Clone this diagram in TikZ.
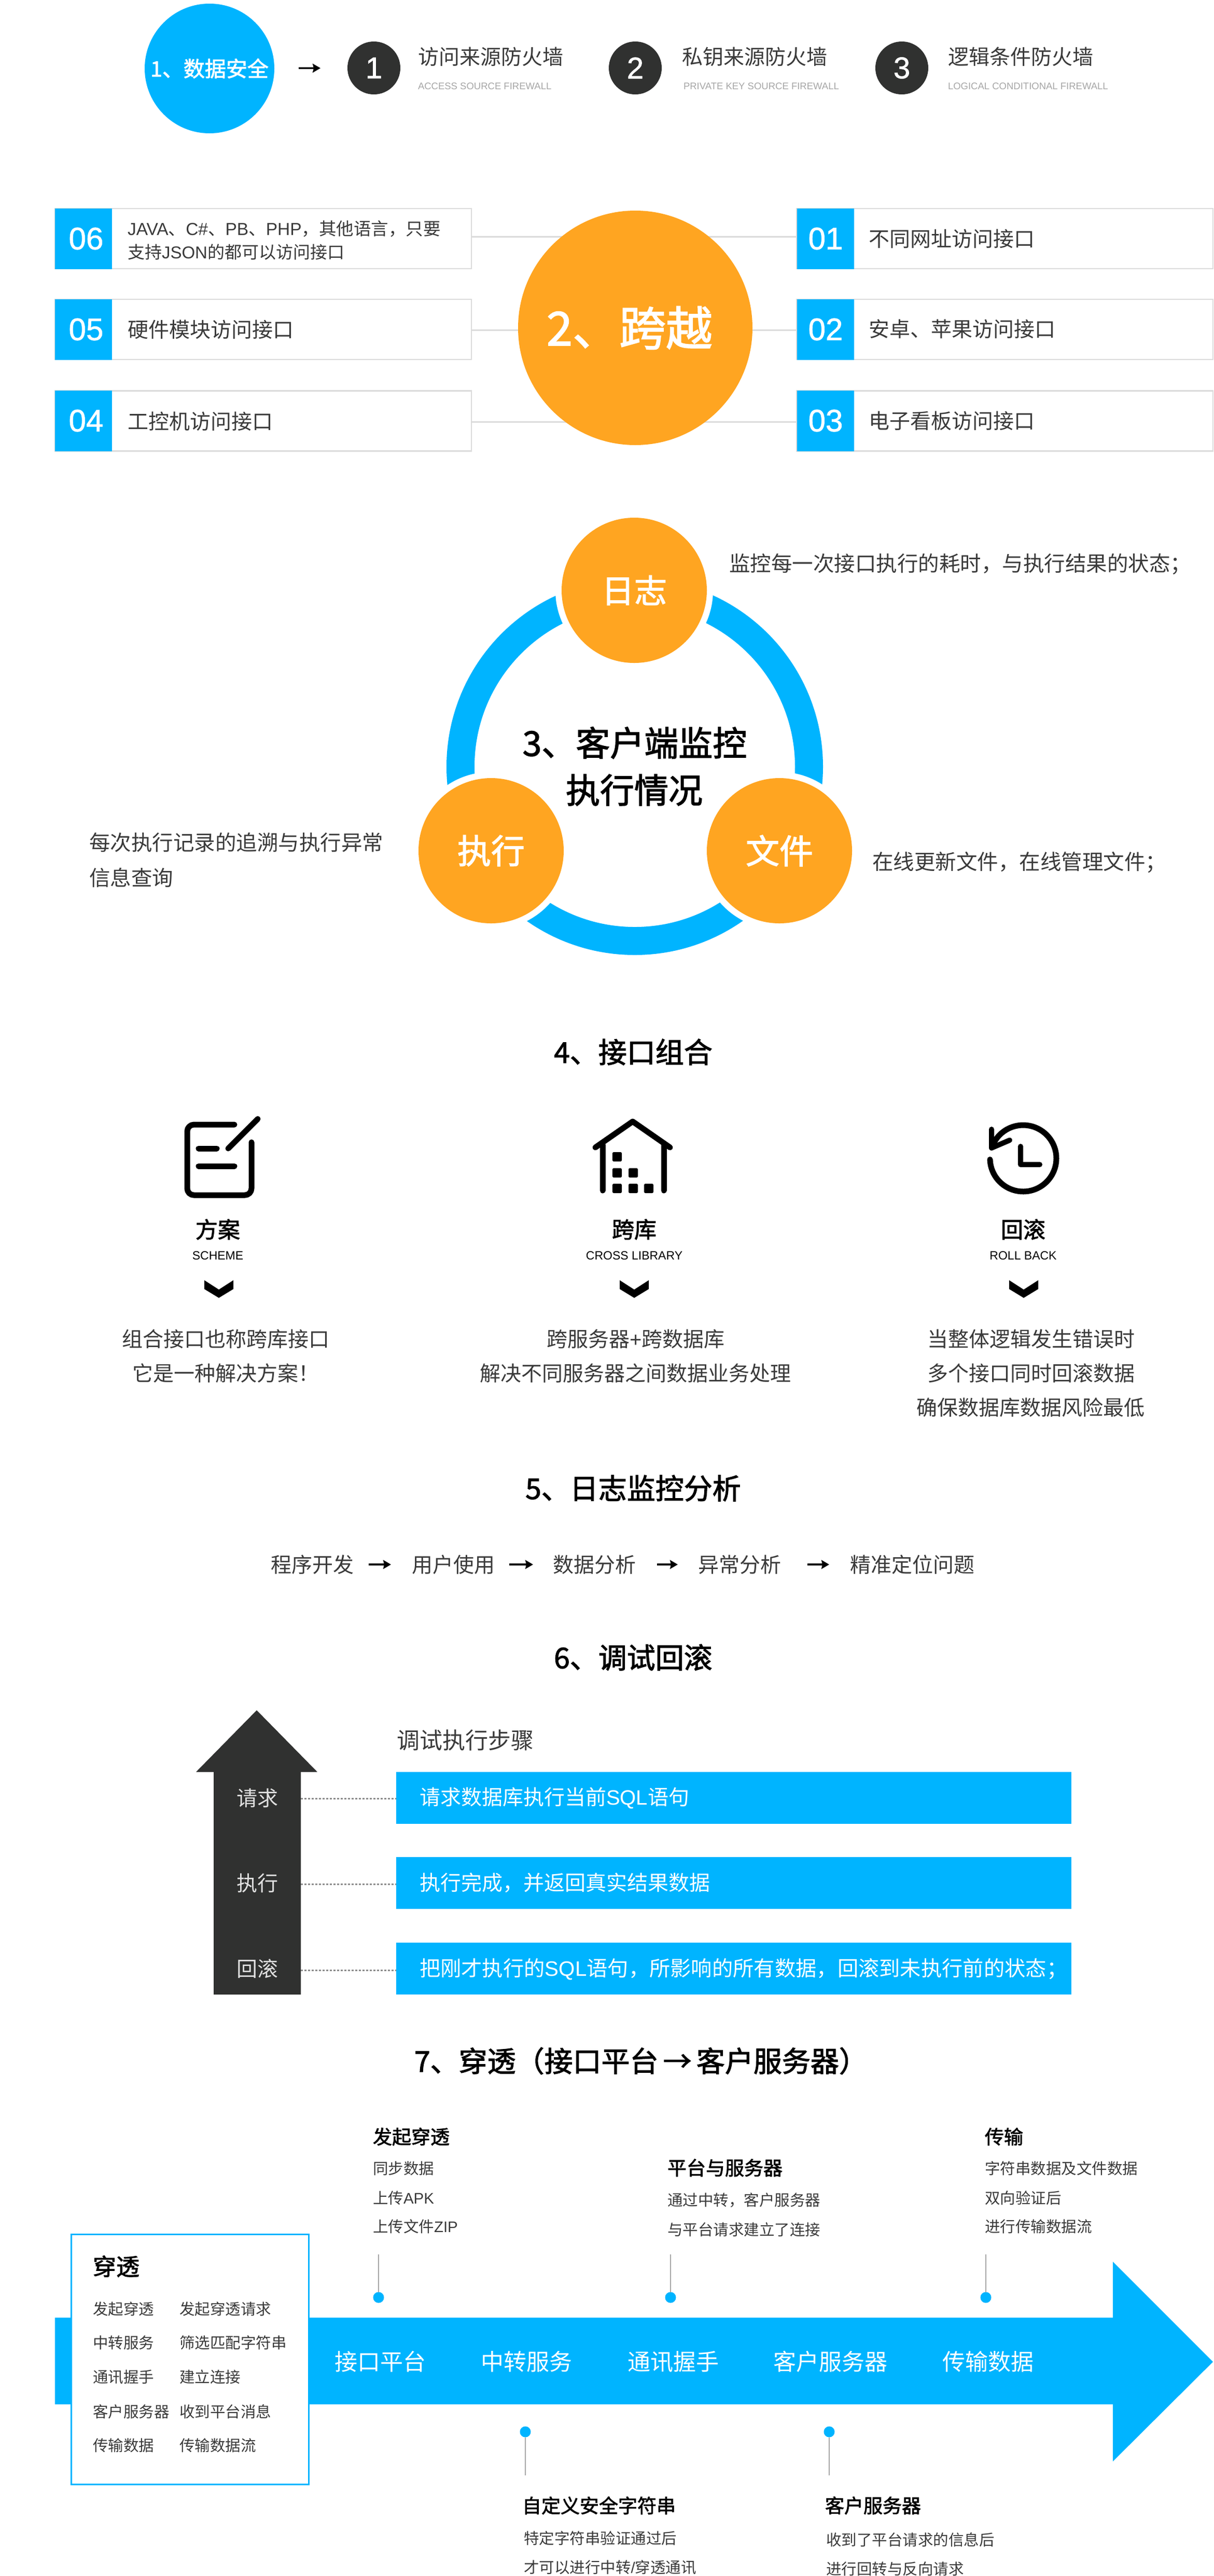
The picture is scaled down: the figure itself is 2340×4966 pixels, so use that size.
\documentclass[tikz,border=0pt]{standalone}
\usepackage{fontspec}
\setmainfont{Noto Sans CJK SC}
\newfontfamily\md[FakeBold=2]{Noto Sans CJK SC}
\newfontfamily\la{Liberation Sans}
\newfontfamily\lamd[FakeBold=1.2]{Liberation Sans}
\usetikzlibrary{arrows.meta}
\definecolor{bl}{HTML}{00B4FF}
\definecolor{og}{HTML}{FFA521}
\definecolor{dk}{HTML}{303130}
\definecolor{tx}{HTML}{3A3A3A}
\tikzset{
  fs/.style={font=\fontsize{#1}{#1}\selectfont},
  lb/.style={inner sep=0,outer sep=0,text=tx,anchor=west,fs=#1},
  cb/.style={inner sep=0,outer sep=0,text=tx,anchor=center,fs=#1},
  bh/.style={inner sep=0,outer sep=0,text=black,anchor=center,font=\fontsize{#1}{#1}\selectfont\md},
  bw/.style={inner sep=0,outer sep=0,text=black,anchor=west,font=\fontsize{#1}{#1}\selectfont\md},
  wt/.style={inner sep=0,outer sep=0,text=white,anchor=center,font=\fontsize{#1}{#1}\selectfont\md},
  wn/.style={inner sep=0,outer sep=0,text=white,anchor=center,fs=#1},
  en/.style={inner sep=0,outer sep=0,anchor=west,text=gray!70,font=\fontsize{18.5}{18.5}\selectfont\la},
  ec/.style={inner sep=0,outer sep=0,anchor=center,text=black,font=\fontsize{23}{23}\selectfont\la},
  dg/.style={inner sep=0,outer sep=0,anchor=center,text=white,font=\fontsize{60}{60}\selectfont\lamd},
  ball/.style={circle,inner sep=0,outer sep=0,minimum size=#1},
  infobox/.style={rectangle,draw=black!14,line width=2.5,fill=white,inner sep=0,outer sep=0,minimum width=803,minimum height=116},
  tabbox/.style={rectangle,fill=bl,inner sep=0,outer sep=0,minimum width=110,minimum height=117},
  barbox/.style={rectangle,fill=bl,inner sep=0,outer sep=0,minimum width=1302,minimum height=100},
  link/.style={draw=black!14,line width=3},
  flow/.style={draw=black,line width=3.5,-{Stealth[length=15,width=17,inset=2]}},
  dashline/.style={draw=black!45,line width=3,dash pattern=on 4 off 3},
  callout/.style={draw=black!35,line width=1.5},
  icon/.style={draw=black,line width=11,line cap=round,line join=round},
  chev/.style={fill=black},
  sq/.style={fill=black,rounded corners=2.5}
}
\begin{document}
\begin{tikzpicture}[x=1pt,y=-1pt]
\useasboundingbox (0,0) rectangle (2340,4966);
\fill[white] (0,0) rectangle (2340,4966);

% Section 1
\node[ball=250,fill=bl] (c1) at (404,132) {};
\node[wt=41] (c1t) at (404,132) {1、数据安全};
\node[ball=102,fill=dk] (n1) at (721,131) {};
\node[ball=102,fill=dk] (n2) at (1225,131) {};
\node[ball=102,fill=dk] (n3) at (1739,131) {};
\node[inner sep=0,text=white,font=\fontsize{58}{58}\selectfont\lamd] (n1t) at (721,131) {1};
\node[inner sep=0,text=white,font=\fontsize{58}{58}\selectfont\lamd] (n2t) at (1225,131) {2};
\node[inner sep=0,text=white,font=\fontsize{58}{58}\selectfont\lamd] (n3t) at (1739,131) {3};
\draw[flow,shorten <=47,shorten >=52] (c1) -- (n1);
\node[lb=40] (a1) at (806,109) {访问来源防火墙};
\node[en] (a1e) at (806,166) {ACCESS SOURCE FIREWALL};
\node[lb=40] (a2) at (1315,109) {私钥来源防火墙};
\node[en] (a2e) at (1318,166) {PRIVATE KEY SOURCE FIREWALL};
\node[lb=40] (a3) at (1828,109) {逻辑条件防火墙};
\node[en] (a3e) at (1828,166) {LOGICAL CONDITIONAL FIREWALL};

% Section 2
\coordinate (l1a) at (909,456); \coordinate (l1b) at (1536,456);
\coordinate (l2a) at (909,636); \coordinate (l2b) at (1536,636);
\coordinate (l3a) at (909,813); \coordinate (l3b) at (1536,813);
\draw[link] (l1a) -- (l1b);
\draw[link] (l2a) -- (l2b);
\draw[link] (l3a) -- (l3b);
\node[infobox] (b6) at (507.5,460) {};
\node[infobox] (b5) at (507.5,635) {};
\node[infobox] (b4) at (507.5,811.5) {};
\node[infobox] (b1) at (1937.5,460) {};
\node[infobox] (b2) at (1937.5,635) {};
\node[infobox] (b3) at (1937.5,811.5) {};
\node[tabbox] (t6) at (161,460) {};
\node[tabbox] (t5) at (161,635) {};
\node[tabbox] (t4) at (161,811.5) {};
\node[tabbox] (t1) at (1592,460) {};
\node[tabbox] (t2) at (1592,635) {};
\node[tabbox] (t3) at (1592,811.5) {};
\node[dg] (d6) at (166,460) {06};
\node[dg] (d5) at (166,635) {05};
\node[dg] (d4) at (166,811) {04};
\node[dg] (d1) at (1592,460) {01};
\node[dg] (d2) at (1592,635) {02};
\node[dg] (d3) at (1592,811) {03};
\node[lb=33.5] (x6a) at (246,441) {{\la JAVA}、{\la C\#}、{\la PB}、{\la PHP}，其他语言，只要};
\node[lb=33] (x6b) at (246,486) {支持{\la JSON}的都可以访问接口};
\node[lb=40] (x5) at (246,635) {硬件模块访问接口};
\node[lb=40] (x4) at (246,812) {工控机访问接口};
\node[lb=40] (x1) at (1675,460) {不同网址访问接口};
\node[lb=40] (x2) at (1675,634) {安卓、苹果访问接口};
\node[lb=40] (x3) at (1675,811) {电子看板访问接口};
\node[ball=452,fill=og] (c2) at (1225,632) {};
\node[wt=90] (c2t) at (1214,632) {2、跨越};

% Section 3
\draw[bl,line width=54] (1224,1478) circle[radius=336];
\node[ball=304,fill=white] (lgw) at (1223,1138) {};
\node[ball=304,fill=white] (zxw) at (947,1640) {};
\node[ball=304,fill=white] (wjw) at (1503,1640) {};
\node[ball=280,fill=og] (lg) at (1223,1138) {};
\node[ball=280,fill=og] (zx) at (947,1640) {};
\node[ball=280,fill=og] (wj) at (1503,1640) {};
\node[wt=63] (lgt) at (1223,1138) {日志};
\node[wt=65] (zxt) at (947,1640) {执行};
\node[wt=65] (wjt) at (1503,1640) {文件};
\node[bh=66] (m1) at (1224,1432) {3、客户端监控};
\node[bh=66] (m2) at (1223,1523) {执行情况};
\node[lb=40.5] (s1) at (1406,1088) {监控每一次接口执行的耗时，与执行结果的状态；};
\node[lb=40.5] (s2) at (172,1624) {每次执行记录的追溯与执行异常};
\node[lb=40.5] (s3) at (172,1692) {信息查询};
\node[lb=40.5] (s4) at (1682,1663) {在线更新文件，在线管理文件；};

% Section 4
\node[bh=55] (h4) at (1221,2028) {4、接口组合};
\draw[icon,rounded corners=13] (452,2168) -- (361,2168) -- (361,2304) -- (485,2304) -- (485,2202);
\draw[icon] (383,2214) -- (418,2214);
\draw[icon] (383,2248) -- (452,2248);
\draw[icon] (440,2214) -- (497,2157);
\draw[icon] (1148,2212) -- (1220,2162) -- (1292,2212);
\draw[icon] (1162,2207) -- (1162,2295);
\draw[icon] (1280,2207) -- (1280,2295);
\foreach \px/\py in {1190/2230,1190/2261,1221/2261,1190/2291,1221/2291,1251/2291}{
  \fill[sq] (\px-9,\py-9) rectangle (\px+9,\py+9);
}
\draw[icon] plot[domain=178:-160,samples=60,smooth] ({1973+64*cos(\x)},{2233+64*sin(\x)});
\draw[icon,line width=10] (1912,2177) -- (1912,2213) -- (1947,2198);
\draw[icon,line width=10] (1968,2210) -- (1968,2245) -- (2005,2245);
\node[bh=43] (i1) at (420,2370) {方案};
\node[bh=43] (i2) at (1223,2370) {跨库};
\node[bh=43] (i3) at (1973,2370) {回滚};
\node[ec] (i1e) at (420,2421) {SCHEME};
\node[ec] (i2e) at (1223,2421) {CROSS LIBRARY};
\node[ec] (i3e) at (1973,2421) {ROLL BACK};
\foreach \cx in {422,1223,1974}{
  \fill[chev] (\cx-28,2468) -- (\cx,2486) -- (\cx+28,2468) -- (\cx+28,2485) -- (\cx,2502) -- (\cx-28,2485) -- cycle;
}
\node[cb=40] (p1) at (435,2581) {组合接口也称跨库接口};
\node[cb=40] (p2) at (435,2647) {它是一种解决方案！};
\node[cb=40] (p3) at (1226,2581) {跨服务器{\la +}跨数据库};
\node[cb=40] (p4) at (1225,2647) {解决不同服务器之间数据业务处理};
\node[cb=40] (p5) at (1988,2581) {当整体逻辑发生错误时};
\node[cb=40] (p6) at (1988,2647) {多个接口同时回滚数据};
\node[cb=40] (p7) at (1987,2713) {确保数据库数据风险最低};

% Section 5
\node[bh=55] (h5) at (1221,2869) {5、日志监控分析};
\node[lb=40] (f1) at (522,3016) {程序开发};
\node[lb=40] (f2) at (794,3016) {用户使用};
\node[lb=40] (f3) at (1066,3016) {数据分析};
\node[lb=40] (f4) at (1346,3016) {异常分析};
\node[lb=40] (f5) at (1639,3016) {精准定位问题};
\draw[flow] ([xshift=29]f1.east) -- ([xshift=-40]f2.west);
\draw[flow] ([xshift=28]f2.east) -- ([xshift=-38]f3.west);
\draw[flow] ([xshift=41]f3.east) -- ([xshift=-39]f4.west);
\draw[flow] ([xshift=51]f4.east) -- ([xshift=-40]f5.west);

% Section 6
\node[bh=55] (h6) at (1221,3195) {6、调试回滚};
\fill[dk] (495,3297) -- (612,3416) -- (580,3416) -- (580,3845) -- (412,3845) -- (412,3416) -- (378,3416) -- cycle;
\node[lb=44] (st) at (765,3355) {调试执行步骤};
\node[barbox] (r1) at (1415,3466) {};
\node[barbox] (r2) at (1415,3630) {};
\node[barbox] (r3) at (1415,3795) {};
\node[wn=40,anchor=west] (r1t) at (809,3466) {请求数据库执行当前{\la SQL}语句};
\node[wn=40,anchor=west] (r2t) at (809,3630) {执行完成，并返回真实结果数据};
\node[wn=40.3,anchor=west] (r3t) at (809,3796) {把刚才执行的{\la SQL}语句，所影响的所有数据，回滚到未执行前的状态；};
\node[wn=40,text=black!12] (q1) at (496,3466) {请求};
\node[wn=40,text=black!12] (q2) at (496,3630) {执行};
\node[wn=40,text=black!12] (q3) at (496,3795) {回滚};
\coordinate (sh1) at (580,3467); \coordinate (sh2) at (580,3632); \coordinate (sh3) at (580,3798);
\coordinate (ba1) at (764,3467); \coordinate (ba2) at (764,3632); \coordinate (ba3) at (764,3798);
\draw[dashline] (sh1) -- (ba1);
\draw[dashline] (sh2) -- (ba2);
\draw[dashline] (sh3) -- (ba3);

% Section 7
\node[bh=55] (h7) at (1236,3973) {7、穿透（接口平台{\,}→{\,}客户服务器）};
\fill[bl] (106,4468) -- (2146,4468) -- (2146,4360) -- (2339,4553) -- (2146,4745) -- (2146,4635) -- (106,4635) -- cycle;
\node[rectangle,draw=bl,line width=3,fill=white,inner sep=0,outer sep=0,minimum width=458,minimum height=482] (pb) at (366,4548) {};
\node[bw=45] (pt) at (179,4369) {穿透};
\node[lb=29.5] (k1) at (179,4451) {发起穿透};
\node[lb=29.5] (v1) at (346,4451) {发起穿透请求};
\node[lb=29.5] (k2) at (179,4516) {中转服务};
\node[lb=29.5] (v2) at (346,4516) {筛选匹配字符串};
\node[lb=29.5] (k3) at (179,4582) {通讯握手};
\node[lb=29.5] (v3) at (346,4582) {建立连接};
\node[lb=29.5] (k4) at (179,4649) {客户服务器};
\node[lb=29.5] (v4) at (346,4649) {收到平台消息};
\node[lb=29.5] (k5) at (179,4714) {传输数据};
\node[lb=29.5] (v5) at (346,4714) {传输数据流};
\node[wn=44] (g1) at (733,4553) {接口平台};
\node[wn=44] (g2) at (1015,4553) {中转服务};
\node[wn=44] (g3) at (1298,4553) {通讯握手};
\node[wn=44] (g4) at (1601,4553) {客户服务器};
\node[wn=44] (g5) at (1905,4553) {传输数据};
\node[ball=21,fill=bl] (o1) at (730,4429) {};
\node[ball=21,fill=bl] (o2) at (1293,4429) {};
\node[ball=21,fill=bl] (o3) at (1901,4429) {};
\node[ball=21,fill=bl] (o4) at (1013,4688) {};
\node[ball=21,fill=bl] (o5) at (1599,4688) {};
\coordinate (e1) at (730,4346); \coordinate (e2) at (1293,4346); \coordinate (e3) at (1901,4346);
\coordinate (e4) at (1013,4772); \coordinate (e5) at (1599,4772);
\draw[callout] (e1) -- (o1);
\draw[callout] (e2) -- (o2);
\draw[callout] (e3) -- (o3);
\draw[callout] (e4) -- (o4);
\draw[callout] (e5) -- (o5);
\node[bw=37] (u1) at (719,4119) {发起穿透};
\node[lb=29.5] (u1a) at (719,4180) {同步数据};
\node[lb=29.5] (u1b) at (719,4237) {上传{\la APK}};
\node[lb=29.5] (u1c) at (719,4292) {上传文件{\la ZIP}};
\node[bw=37] (u2) at (1287,4179) {平台与服务器};
\node[lb=29.5] (u2a) at (1287,4242) {通过中转，客户服务器};
\node[lb=29.5] (u2b) at (1287,4298) {与平台请求建立了连接};
\node[bw=37] (u3) at (1899,4119) {传输};
\node[lb=29.5] (u3a) at (1899,4180) {字符串数据及文件数据};
\node[lb=29.5] (u3b) at (1899,4237) {双向验证后};
\node[lb=29.5] (u3c) at (1899,4292) {进行传输数据流};
\node[bw=37] (u4) at (1007,4830) {自定义安全字符串};
\node[lb=29.5] (u4a) at (1010,4893) {特定字符串验证通过后};
\node[lb=29.5] (u4b) at (1010,4949) {才可以进行中转{\la /}穿透通讯};
\node[bw=37] (u5) at (1591,4830) {客户服务器};
\node[lb=29.5] (u5a) at (1593,4896) {收到了平台请求的信息后};
\node[lb=29.5] (u5b) at (1593,4952) {进行回转与反向请求};
\end{tikzpicture}
\end{document}
